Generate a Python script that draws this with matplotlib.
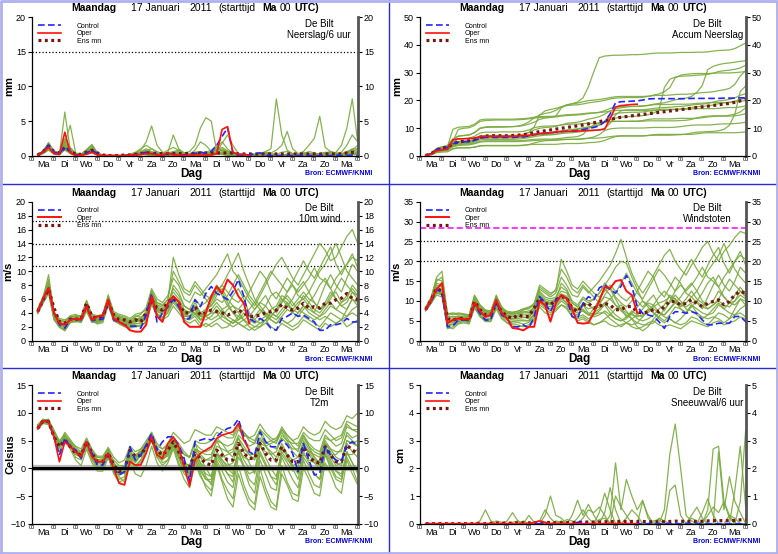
import numpy as np
import matplotlib
matplotlib.use('Agg')
import matplotlib.pyplot as plt
from matplotlib.lines import Line2D
from matplotlib.transforms import offset_copy

plt.rcParams['font.family'] = ['Liberation Sans', 'DejaVu Sans']

# time axis: 6-hourly steps, in days after Ma 17 Jan 00 UTC
steps = np.arange(1, 61)
t = steps * 0.25
t_oper = t[:40]
day_names = ['Ma', 'Di', 'Wo', 'Do', 'Vr', 'Za', 'Zo', 'Ma', 'Di', 'Wo', 'Do', 'Vr', 'Za', 'Zo', 'Ma']

# ---------------- precipitation per 6 h (mm) ----------------
prec_ctrl = [0.1,0.6,1.5,0.5, 0.3,1.3,0.6,0.1, 0.1,0.4,0.8,0.3, 0,0,0,0, 0,0.1,0.1,0.3, 0.5,0.3,0.2,0.1,
             0.3,0.2,0.1,0.1, 0.2,0.3,0.5,0.3, 0.6,1.5,2.8,4.0, 0.4,0.1,0.1,0.1, 0.3,0.4,0.1,0, 0,0,0,0,
             0,0.1,0,0, 0,0,0,0.1, 0,0,0.1,0]
prec_oper = [0.1,0.5,1.2,0.3, 0.2,3.4,0.4,0, 0.1,0.2,0.5,0.1, 0,0,0,0, 0,0.1,0.1,0.2, 0.3,0.3,0.1,0.1,
             0.4,0.1,0.1,0, 0.1,0.1,0.1,0.1, 0.1,0.3,3.8,4.2, 0.5,0.2,0.2,0.1]
prec_mean = [0.1,0.6,1.4,0.6, 0.4,1.2,0.7,0.2, 0.2,0.5,0.8,0.4, 0.1,0,0,0, 0.1,0.1,0.2,0.3, 0.4,0.4,0.3,0.3,
             0.3,0.3,0.3,0.3, 0.3,0.3,0.4,0.4, 0.4,0.4,0.4,0.4, 0.4,0.25,0.25,0.25, 0.25,0.25,0.25,0.25,
             0.25,0.25,0.25,0.25, 0.25,0.25,0.25,0.25, 0.25,0.25,0.25,0.25, 0.25,0.4,0.5,0.5]
prec_members = [
    [0,0.3,0.8,0.2, 0.1,1.0,0.4,0, 0,0.3,0.5,0.1, 0,0,0,0, 0,0,0.1,0.2, 0.1,0,0,0, 0,0.2,0.1,0, 0,0.1,0.2,0.1,
     0.2,0.5,0.8,0.6, 0.2,0,0,0, 0,0.2,0.3,0.1, 0,0,0,0, 0,0,0.2,0.3, 0.1,0,0,0, 0,0,0.1,0.2],
    [0.1,0.5,1.5,0.6, 0.3,2.0,1.0,0.2, 0.2,0.6,1.2,0.3, 0,0,0.1,0, 0,0,0.2,0.5, 0.8,0.4,0.2,0, 0.1,0.3,0.2,0.1,
     0,0.2,0.1,0, 0.1,0.3,0.2,0.1, 0,0,0.1,0, 0.2,0.4,0.2,0, 0,0,0.1,0.1, 0,0,0,0.2, 0.3,0.2,0.1,0, 0,0.1,0.3,0.5],
    [0.1,0.5,1.9,0.5, 0.2,6.3,0.8,0.1, 0.2,0.8,1.5,0.3, 0,0,0,0, 0,0.1,0.1,0.2, 0.3,0.2,0.1,0, 0.1,0.3,0.2,0.1,
     0.1,0.2,0.2,0.1, 0.1,0.2,0.3,0.2, 0.1,0,0,0, 0,0,0.1,0.2, 0.1,0,0,0, 0,0.1,0.1,0, 0,0,0.1,0.2, 0.1,0,0.2,0.4],
    [0.1,0.6,1.8,0.7, 0.4,2.5,1.0,0.2, 0.2,0.8,1.5,0.4, 0.1,0,0,0.1, 0.1,0.2,0.5,1.0, 1.5,1.0,0.6,0.3,
     0.8,1.2,0.8,0.4, 0.6,1.5,4.0,5.5, 5.0,0.6,0.2,0.1, 0,0.1,0.1,0, 0.1,0.2,0.2,0.1, 0,0,0.1,0.1, 0,0,0.1,0,
     0.1,0.3,0.2,0.1, 0.1,0.5,1.0,1.0],
    [0.1,0.4,1.2,0.5, 0.3,1.5,0.6,0.1, 0.1,0.5,0.9,0.2, 0,0,0,0, 0,0.1,0.2,0.4, 0.6,0.4,0.2,0.1, 0.2,0.4,0.3,0.1,
     0.1,0.3,0.5,0.4, 0.5,0.8,1.0,0.6, 0.3,0.2,0.1,0.1, 0.2,0.3,0.6,1.0, 8.2,3.0,0.8,0.3, 0.1,0.1,0.2,0.1,
     0.2,0.4,0.6,0.3, 0.2,0.3,0.5,1.0],
    [0.1,0.5,1.3,0.4, 0.2,1.8,0.8,0.2, 0.1,0.6,1.0,0.3, 0,0,0,0, 0,0.1,0.3,0.6, 1.0,0.6,0.3,0.1, 0.3,0.5,0.6,0.2,
     0.2,0.5,0.6,0.4, 0.5,0.9,1.2,0.7, 0.4,0.3,0.2,0.1, 0.1,0.2,0.4,0.3, 0.2,0.5,0.6,0.3, 0.3,0.6,1.5,2.5,
     5.7,1.2,0.6,0.4, 0.2,0.3,0.3,0.2],
    [0.1,0.6,1.6,0.6, 0.3,1.2,0.6,0.1, 0.1,0.4,0.8,0.2, 0,0,0,0, 0,0,0.1,0.2, 0.4,0.3,0.1,0, 0.1,0.6,0.8,0.3,
     0.2,0.4,0.3,0.2, 0.4,1.2,2.0,1.0, 0.3,0.1,0.1,0, 0.1,0.3,0.2,0.1, 0,0.1,0.2,0.1, 0.2,0.4,0.3,0.1,
     0.2,0.3,0.5,0.3, 0.2,0.4,0.6,0.5],
    [0.1,0.3,0.9,0.3, 0.2,0.8,0.3,0, 0,0.2,0.4,0.1, 0,0,0,0, 0,0,0.1,0.3, 0.6,0.5,0.3,0.1, 0.1,0.2,0.1,0,
     0,0.1,0.3,0.5, 0.8,1.5,0.6,0.2, 0.1,0,0,0, 0,0.1,0.1,0, 0,0,0.1,0.2, 0.3,0.2,0.1,0, 0,0.1,0.2,0.1, 0,0.1,0.2,0.3],
    [0.1,0.7,1.7,0.5, 0.3,1.8,4.4,0.4, 0.2,0.8,1.5,0.3, 0.1,0.1,0,0, 0,0.1,0.1,0.2, 0.3,0.2,0.1,0, 0.1,0.3,0.2,0.1,
     0.1,0.2,0.3,0.2, 0.3,0.6,0.8,0.4, 0.2,0.1,0,0, 0.1,0.2,0.3,0.1, 0,0,0.1,0, 0,0.1,0.2,0.1, 0.1,0.1,0,0, 0,0.2,0.3,0.2],
    [0.1,0.5,1.4,0.5, 0.3,1.6,0.7,0.1, 0.1,0.5,0.9,0.2, 0,0,0,0, 0.1,0.2,0.4,0.8, 2.0,4.3,1.5,0.5, 0.4,0.6,0.4,0.2,
     0.1,0.3,0.4,0.3, 0.2,0.4,0.5,0.3, 0.1,0.1,0,0, 0.1,0.3,0.5,0.4, 0.8,1.5,3.5,1.0, 0.3,0.2,0.1,0, 0,0.1,0.1,0, 0,0.1,0.2,0.2],
    [0.1,0.4,1.0,0.4, 0.2,1.4,0.5,0.1, 0.1,0.3,0.7,0.2, 0,0,0,0, 0,0,0.1,0.2, 0.2,0.1,0,0, 0.1,0.2,0.3,0.1,
     0.2,0.8,2.0,1.5, 0.6,0.3,0.2,0.1, 0,0,0,0, 0.1,0.1,0,0, 0,0,0,0.1, 0.1,0.3,0.6,0.4, 0.2,0.1,0,0, 0.2,0.4,0.8,1.5],
    [0.1,0.7,1.8,0.6, 0.4,2.2,1.2,0.3, 0.2,0.9,1.6,0.4, 0.1,0,0,0, 0,0.1,0.3,0.5, 0.7,1.0,0.5,0.2, 0.5,3.0,1.0,0.4,
     0.3,0.5,0.4,0.2, 0.2,0.3,0.4,0.3, 0.1,0,0,0, 0,0.1,0.2,0.1, 0,0.1,0.2,0.1, 0,0.1,0.3,0.2, 0.1,0.2,0.4,0.3, 0.5,1.5,3.0,2.0],
    [0.1,0.4,1.1,0.4, 0.2,1.0,0.5,0.1, 0.1,0.4,0.6,0.2, 0,0,0,0, 0,0,0.1,0.1, 0.2,0.1,0.1,0, 0,0.1,0.1,0,
     0.1,0.2,0.1,0, 0.1,0.2,0.3,0.2, 0.1,0,0,0, 0,0.1,0.1,0, 0,0,0.1,0.1, 0.2,0.4,0.3,0.1, 0.1,0.1,0.2,0.5, 1.5,4.0,8.2,2.0],
    [0.1,0.5,1.2,0.5, 0.2,1.2,0.6,0.1, 0.1,0.4,0.8,0.2, 0,0,0,0, 0,0.1,0.2,0.3, 0.4,0.3,0.2,0.1, 0.2,0.3,0.2,0.1,
     0.2,0.3,0.2,0.1, 0.2,0.6,1.8,3.0, 1.5,0.3,0.1,0, 0,0.2,0.3,0.2, 0.1,0.1,0.2,0.1, 0.2,0.3,0.2,0.1,
     0.3,0.5,0.4,0.2, 0.3,0.6,0.9,0.6],
]

# ---------------- 10 m wind (m/s) ----------------
wind_ctrl = [4.2,5.9,7.6,4.0, 2.3,1.8,3.1,3.1, 3.0,5.0,2.9,3.0, 3.1,5.7,3.0,2.7, 2.3,2.1,2.1,1.8, 3.7,6.8,2.7,4.0,
             4.9,5.9,4.9,3.0, 3.2,5.9,4.9,6.8, 7.8,6.8,6.4,5.9, 7.1,8.8,6.4,3.2, 2.7,3.2,2.7,1.8, 1.5,3.2,3.5,4.0,
             3.5,3.7,3.2,2.7, 1.5,1.5,2.3,2.3, 2.5,3.2,2.7,2.7]
wind_oper = [4.2,6.1,7.6,4.0, 2.5,2.3,3.0,3.1, 3.1,4.9,3.0,3.5, 3.6,5.9,3.2,2.7, 2.3,1.5,1.3,1.3, 2.3,6.4,3.5,2.7,
             5.4,6.4,5.6,2.7, 2.0,2.0,2.0,4.0, 6.4,7.8,6.8,8.8, 8.0,6.4,5.4,2.5]
wind_mean = [4.2,5.9,7.4,4.7, 2.7,2.5,3.1,3.1, 3.1,5.4,3.5,3.2, 3.5,5.6,3.7,3.0, 3.0,2.7,3.0,2.7, 4.0,5.9,4.7,4.4,
             5.6,6.1,5.4,4.0, 4.0,4.9,3.7,4.0, 4.4,4.2,4.0,3.7, 4.0,4.4,4.0,3.5, 3.5,3.7,4.0,4.2, 4.4,5.2,4.7,4.4,
             4.7,5.4,4.7,4.9, 4.7,5.4,5.4,5.9, 6.1,6.8,6.1,5.9]
wind_members = [
    [4.0,5.5,7.0,3.8, 2.4,2.0,3.2,3.0, 3.2,5.0,3.4,3.0, 3.6,5.8,3.8,3.0, 3.0,2.5,3.0,2.8, 4.0,6.5,5.0,4.5,
     5.5,7.0,6.0,4.5, 4.0,5.5,4.0,3.5, 3.0,3.5,4.5,5.0, 6.5,7.5,6.0,4.0, 3.0,2.5,3.0,3.5, 4.5,6.0,5.5,4.0,
     5.0,6.5,5.5,4.5, 4.0,5.0,6.5,7.0, 5.5,6.0,8.0,7.0],
    [4.6,6.4,8.8,4.2, 3.0,2.8,3.6,3.8, 3.4,5.8,3.6,3.4, 3.8,6.2,4.0,3.6, 3.4,3.0,3.4,3.8, 4.8,7.5,6.0,5.5,
     6.5,9.0,8.0,6.0, 5.5,7.0,6.5,7.5, 8.5,9.5,11.0,12.5, 10.0,9.0,7.5,6.0, 5.0,6.5,8.0,9.5, 11.0,12.0,10.5,9.0,
     8.0,9.5,11.0,12.5, 14.0,13.0,11.5,12.0, 13.5,15.0,16.0,14.0],
    [4.1,5.6,7.2,3.2, 2.0,1.6,2.6,2.9, 2.6,4.2,2.6,2.8, 2.9,5.0,3.0,2.4, 2.0,1.8,2.0,2.2, 2.6,5.2,3.6,3.0,
     3.5,5.0,4.0,3.0, 2.5,3.0,2.0,2.5, 2.0,2.5,1.8,2.0, 3.0,2.5,2.0,1.5, 2.0,2.5,3.0,2.0, 1.5,2.5,2.0,1.5,
     2.0,3.0,2.5,2.0, 1.5,2.5,2.0,2.5, 3.0,2.0,2.5,3.0],
    [4.4,6.0,8.0,3.6, 2.6,2.4,3.0,3.4, 3.0,5.4,3.2,3.2, 3.4,6.0,3.4,3.2, 2.8,2.4,2.8,3.0, 3.6,6.4,4.8,4.2,
     5.0,6.5,5.5,4.0, 3.5,4.5,3.0,4.0, 5.5,7.0,8.0,9.5, 11.0,12.6,10.0,8.0, 6.0,5.0,4.0,3.5, 3.0,4.0,5.0,6.0,
     7.5,8.5,7.0,5.5, 4.5,5.5,7.0,6.0, 5.0,4.5,6.0,5.5],
    [4.2,5.8,7.5,3.4, 2.2,1.8,2.8,3.2, 3.0,4.8,2.8,2.6, 3.0,5.4,3.2,2.8, 2.4,2.0,2.4,2.6, 3.0,5.8,4.2,3.8,
     4.5,6.0,5.0,3.5, 3.5,4.0,3.0,3.0, 3.5,4.5,3.5,3.0, 2.5,3.5,4.5,3.5, 3.0,4.0,5.0,6.5, 7.0,6.0,5.0,4.5,
     5.5,6.0,5.0,4.0, 6.0,8.0,9.5,8.0, 7.0,9.0,11.0,10.0],
    [4.3,5.9,7.8,3.7, 2.8,2.6,3.4,3.0, 2.8,5.2,3.0,2.8, 3.2,6.4,3.6,3.4, 3.2,2.8,3.6,3.4, 3.8,6.8,5.2,4.8,
     5.0,8.0,7.0,5.0, 4.5,6.0,5.0,5.5, 6.5,8.0,7.0,5.5, 4.0,3.0,3.5,4.5, 5.5,4.5,3.5,3.0, 2.5,3.5,4.5,4.0,
     3.5,4.5,5.5,6.5, 8.0,9.0,7.5,6.0, 5.0,5.5,7.0,6.0],
    [3.9,5.4,6.8,3.0, 2.0,1.4,2.6,2.8, 2.8,4.6,3.0,2.4, 2.6,5.2,2.8,2.6, 2.2,2.0,2.2,2.0, 2.8,5.5,3.8,3.2,
     4.0,5.5,4.5,3.2, 3.0,3.5,2.5,2.0, 2.5,3.0,3.5,4.5, 5.0,4.0,3.0,2.5, 2.0,2.0,2.5,3.5, 4.5,5.5,6.5,5.5,
     4.5,4.0,3.5,3.0, 3.5,4.5,5.5,4.5, 4.0,3.5,4.5,5.0],
    [4.5,6.2,9.5,4.0, 3.2,3.0,3.4,3.6, 3.6,5.6,3.8,3.6, 3.8,6.6,4.2,3.8, 3.6,3.2,3.8,4.0, 4.4,7.0,5.5,5.0,
     6.0,10.0,8.5,7.0, 6.5,8.0,7.0,6.0, 5.0,6.0,5.5,6.5, 8.0,9.5,8.0,6.5, 5.5,7.0,8.5,10.0, 9.0,8.0,7.0,8.5,
     10.0,11.5,10.0,9.0, 10.5,12.0,13.5,11.0, 9.5,11.0,12.5,10.5],
    [4.0,5.7,7.2,3.3, 2.3,1.9,2.9,3.1, 2.9,4.9,2.9,2.9, 3.1,5.6,3.1,2.9, 2.6,2.2,2.5,2.4, 3.2,6.0,4.2,4.0,
     4.8,6.2,5.0,3.5, 3.5,4.5,3.5,4.0, 4.5,5.5,4.5,3.5, 3.0,2.5,2.0,2.5, 3.5,4.5,4.0,3.0, 2.5,3.0,2.5,2.0,
     2.5,3.5,3.0,2.5, 2.0,3.0,4.0,3.5, 3.0,4.5,6.0,5.0],
    [4.4,6.1,8.2,3.9, 2.7,2.3,3.3,3.5, 3.3,5.5,3.3,3.1, 3.5,6.2,3.5,3.1, 2.9,2.6,3.2,3.2, 3.4,6.6,4.6,4.4,
     5.2,7.5,6.5,5.0, 4.5,5.0,4.0,4.5, 5.0,6.5,7.5,6.0, 5.0,4.5,5.5,7.0, 8.5,10.0,9.0,7.0, 6.0,7.5,9.0,8.0,
     6.5,6.0,7.0,8.5, 10.0,11.0,12.5,14.0, 12.0,10.0,9.0,8.0],
    [4.2,5.7,7.3,3.4, 2.4,2.1,3.1,3.3, 3.1,5.1,3.1,3.0, 3.3,5.7,3.3,3.1, 2.7,2.3,2.7,2.9, 3.3,6.1,4.5,4.1,
     4.7,6.3,5.5,4.0, 4.0,5.0,3.5,3.5, 4.0,5.0,4.0,3.0, 2.5,3.0,4.0,3.0, 2.5,3.0,3.5,4.5, 5.0,6.5,6.0,5.0,
     6.0,7.0,6.0,5.5, 4.5,5.0,6.0,7.5, 9.0,8.0,7.0,6.5],
    [4.3,5.9,7.6,3.5, 2.5,2.2,3.0,3.2, 3.0,5.3,3.0,3.1, 3.2,5.9,3.3,3.3, 2.8,2.5,2.9,3.1, 3.2,6.2,4.4,4.2,
     4.6,6.4,5.6,4.2, 4.2,4.0,3.5,4.5, 6.0,7.5,6.5,5.0, 4.0,3.5,3.0,3.5, 4.5,5.5,5.0,4.0, 3.5,4.5,5.5,4.5,
     4.0,5.0,4.5,4.0, 3.5,4.0,5.0,4.5, 5.5,6.5,7.5,6.5],
    [4.1,5.6,7.1,3.1, 1.9,1.5,2.7,2.7, 2.7,4.5,2.7,2.5, 2.8,5.3,2.9,2.5, 2.1,1.9,2.1,2.1, 2.7,5.4,3.9,3.4,
     4.2,5.8,4.8,3.8, 3.2,3.8,3.0,3.5, 4.0,4.0,3.0,2.5, 2.0,2.5,3.0,2.0, 1.5,2.0,3.0,4.0, 3.5,3.0,2.5,3.0,
     4.0,5.0,4.0,3.5, 3.0,3.5,3.0,2.5, 3.0,3.5,4.0,3.5],
    [4.5,6.1,8.5,3.9, 2.9,2.7,3.5,3.5, 3.4,5.7,3.5,3.3, 3.5,6.3,3.7,3.5, 3.1,2.7,3.1,3.3, 4.2,7.2,5.5,5.2,
     5.8,12.0,9.5,7.5, 7.0,8.5,7.5,6.5, 6.0,7.0,8.0,7.0, 6.0,5.5,6.5,5.5, 4.5,5.5,6.5,5.0, 4.0,5.5,7.0,8.0,
     7.0,8.0,9.0,10.5, 9.0,8.5,7.5,9.0, 10.0,11.0,12.0,11.5],
]

# ---------------- wind gusts (m/s) ----------------
gust_ctrl = [7.9,9.9,12.8,12.4, 3.5,3.7,5.2,5.2, 5.2,9.1,6.9,5.2, 5.2,9.9,6.5,5.6, 3.5,3.5,4.0,3.1, 6.1,11.1,9.4,7.3,
             10.3,11.1,10.7,6.1, 5.6,9.4,11.1,10.3, 13.3,14.1,12.8,12.0, 13.7,16.4,13.7,8.6, 6.9,6.5,6.1,4.8,
             3.1,6.1,7.3,7.3, 6.9,7.3,6.9,5.2, 4.0,4.0,4.4,4.4, 4.4,6.1,6.1,4.8]
gust_oper = [7.9,10.3,13.0,14.5, 4.4,5.2,5.6,5.4, 5.4,9.5,7.5,6.0, 6.5,10.3,7.0,5.6, 3.2,3.0,2.6,3.5, 3.5,10.0,9.0,4.8,
             9.5,11.5,10.5,8.0, 4.5,4.3,4.5,7.0, 10.0,13.5,13.2,15.0, 15.3,12.5,11.5,7.0]
gust_mean = [7.9,10.3,13.2,12.4, 5.6,5.2,5.6,5.6, 5.2,9.9,7.8,6.5, 6.5,9.4,7.3,6.1, 5.6,6.5,6.1,6.1, 8.2,10.7,9.4,9.0,
             10.3,11.1,10.7,8.2, 7.3,9.0,9.4,8.2, 8.6,9.4,9.0,7.8, 7.8,8.6,8.6,7.3, 6.9,7.3,7.8,7.3, 8.6,9.9,9.9,9.0,
             9.4,10.3,9.4,8.6, 9.4,9.9,10.3,9.0, 9.9,11.6,12.4,12.0]
gust_members = [
    [7.8,9.8,12.5,12.0, 5.0,5.0,5.5,5.8, 5.0,10.0,7.5,6.5, 6.5,9.5,7.5,6.0, 5.5,6.0,6.0,5.5, 8.0,11.0,9.5,9.0,
     10.0,11.5,11.0,8.5, 7.5,9.5,9.0,8.0, 8.5,9.5,10.5,9.0, 8.0,7.0,6.5,6.0, 6.5,7.0,8.5,9.5, 10.0,11.0,10.5,9.0,
     8.5,9.5,10.0,8.5, 8.0,9.0,10.0,9.0, 8.5,10.0,11.5,10.5],
    [8.4,11.0,15.5,15.0, 7.0,6.5,7.0,6.8, 6.5,11.5,9.0,7.5, 7.5,11.0,8.5,7.0, 7.0,7.5,8.0,8.5, 9.0,13.0,12.0,11.0,
     12.0,16.0,14.0,11.5, 11.0,13.5,12.0,13.5, 15.0,17.0,19.0,22.0, 25.5,21.0,17.0,14.0, 12.0,14.0,16.5,19.0,
     21.5,23.0,20.0,18.0, 16.5,19.0,21.0,23.5, 25.0,22.0,20.0,22.5, 24.0,26.0,27.5,27.0],
    [7.6,9.5,12.0,11.5, 3.0,3.5,4.5,4.8, 4.5,8.5,6.0,5.0, 5.0,8.5,6.0,4.5, 4.0,4.0,3.5,4.0, 5.5,9.0,8.0,7.0,
     8.0,9.0,8.0,6.0, 5.0,5.5,4.5,4.0, 4.5,5.0,4.0,3.5, 4.0,4.5,3.5,3.0, 3.5,4.5,5.0,4.0, 3.5,4.0,3.5,3.0,
     4.0,5.0,4.5,4.0, 3.5,4.5,5.0,4.0, 4.5,5.0,6.0,5.5],
    [8.0,10.5,14.0,13.5, 5.5,5.5,5.8,6.0, 5.6,10.5,8.0,7.0, 7.0,10.0,7.8,6.5, 6.0,6.5,7.0,7.0, 8.5,11.5,10.0,9.5,
     10.5,12.5,12.0,9.5, 8.5,10.5,9.5,10.5, 12.0,14.0,16.0,18.5, 20.0,19.5,16.0,13.0, 10.0,9.0,8.0,7.0,
     6.5,8.0,9.5,11.0, 13.0,14.5,12.5,10.0, 9.0,10.0,12.5,11.0, 9.5,9.0,10.5,10.0],
    [7.7,9.6,12.2,11.8, 4.0,4.2,5.0,5.2, 4.8,9.0,6.5,5.5, 5.5,8.8,6.5,5.2, 4.8,5.0,5.0,5.0, 6.5,10.0,8.5,8.0,
     9.0,10.5,9.5,7.5, 7.0,7.5,6.5,6.0, 6.5,7.5,6.5,5.5, 5.0,6.0,7.5,6.5, 6.0,7.5,9.0,11.0, 12.5,11.0,9.5,8.5,
     9.5,11.0,9.5,8.0, 11.0,14.0,16.5,14.0, 12.5,15.0,18.5,17.0],
    [8.1,10.2,13.5,13.0, 6.0,6.0,6.2,5.8, 5.5,10.8,8.0,7.0, 6.8,10.2,7.8,6.8, 6.5,7.0,7.5,7.0, 8.5,12.0,10.5,10.0,
     10.5,14.5,13.0,10.0, 9.0,11.0,10.0,10.5, 12.0,14.5,13.0,10.5, 8.0,6.0,7.0,8.5, 10.0,8.5,7.0,6.0,
     5.0,6.5,8.5,8.0, 7.0,8.5,10.0,12.0, 14.5,16.0,13.5,11.0, 9.5,10.0,12.5,11.0],
    [7.5,9.4,11.5,11.0, 3.5,3.0,4.2,4.5, 4.2,8.2,6.2,4.8, 4.8,8.0,5.5,4.5, 3.5,3.5,3.8,3.5, 5.0,8.5,7.0,6.5,
     7.5,9.0,8.5,6.0, 5.5,6.0,5.0,4.0, 4.5,5.5,6.5,8.0, 9.0,7.5,5.5,4.5, 4.0,4.0,4.5,6.0, 8.0,9.5,11.5,10.0,
     8.0,7.5,6.5,5.5, 6.5,8.0,9.5,8.0, 7.0,6.5,8.0,9.0],
    [8.3,10.8,16.0,17.5, 6.5,6.8,6.5,6.5, 6.2,11.0,8.8,7.5, 7.2,11.5,8.5,7.2, 7.0,7.0,7.8,8.0, 9.0,13.5,12.5,11.5,
     13.0,18.0,16.0,13.0, 12.0,14.0,12.5,11.0, 9.5,11.0,10.5,12.0, 14.5,17.0,14.5,12.0, 10.5,13.0,15.5,18.0,
     16.5,14.5,12.5,15.5, 18.0,20.5,18.0,16.0, 19.0,21.5,23.5,19.5, 17.0,20.0,22.5,19.0],
    [7.9,9.9,12.6,12.2, 4.5,4.5,5.2,5.5, 5.2,9.5,6.8,6.0, 6.0,9.0,6.8,5.8, 5.2,5.2,5.2,5.0, 7.0,10.5,9.0,8.5,
     9.5,11.0,9.5,7.0, 6.5,8.0,6.5,7.0, 8.0,9.5,8.0,6.5, 5.5,4.5,4.0,4.5, 6.0,8.0,7.0,5.5, 4.5,5.5,4.5,4.0,
     4.5,6.0,5.5,4.5, 4.0,5.5,7.0,6.5, 5.5,8.0,10.5,9.0],
    [8.2,10.6,14.5,14.0, 6.2,6.0,6.0,6.2, 6.0,10.6,8.4,7.2, 7.0,10.8,8.0,7.0, 6.8,6.8,7.2,7.5, 8.0,12.5,11.0,10.5,
     11.0,13.5,12.5,9.5, 8.5,9.0,8.0,8.5, 9.0,11.5,13.5,11.0, 9.5,8.5,10.0,12.5, 15.0,17.5,16.0,12.5,
     11.0,13.5,16.0,14.5, 12.0,11.0,12.5,15.0, 17.5,19.5,21.5,24.5, 21.0,18.0,16.0,14.5],
    [7.8,9.7,12.4,12.2, 4.8,4.8,5.4,5.6, 5.3,9.8,7.2,6.2, 6.2,9.6,7.2,6.2, 5.6,5.6,5.8,6.0, 7.5,11.0,9.8,9.2,
     9.8,11.2,10.5,8.0, 7.5,9.0,7.0,6.5, 7.5,9.0,7.0,5.5, 5.0,5.5,7.0,5.5, 5.0,5.5,6.5,8.0, 9.0,11.5,10.5,9.0,
     10.5,12.5,10.5,9.5, 8.0,9.0,10.5,13.0, 15.5,14.0,12.5,11.5],
    [8.0,10.0,13.0,12.6, 5.2,5.2,5.6,5.4, 5.4,10.2,7.6,6.6, 6.6,10.0,7.4,6.4, 6.2,6.2,6.5,6.5, 7.8,11.2,10.0,9.6,
     10.0,11.8,11.2,8.5, 8.0,7.5,6.5,8.0, 10.5,13.0,11.5,9.0, 7.5,6.5,5.5,6.5, 8.0,9.5,9.0,7.0, 6.5,8.0,10.0,8.0,
     7.0,9.0,8.0,7.0, 6.5,7.0,9.0,8.0, 9.5,11.5,13.5,11.5],
    [7.6,9.5,12.0,11.6, 3.8,4.0,4.8,5.0, 4.6,8.8,6.4,5.4, 5.4,9.2,6.4,5.2, 4.4,4.6,4.2,4.6, 6.0,9.5,8.5,7.5,
     8.5,10.0,9.0,7.0, 6.0,6.5,5.5,6.5, 7.0,7.0,5.5,4.5, 3.5,4.5,5.5,3.5, 2.5,3.5,5.5,7.0, 6.0,5.5,4.5,5.5,
     7.0,9.0,7.0,6.0, 5.5,6.0,5.5,4.5, 5.5,6.5,7.0,6.0],
    [8.3,10.7,15.0,16.0, 6.8,7.0,6.8,6.6, 6.4,11.2,9.0,7.8, 7.4,11.2,8.2,7.4, 7.2,7.4,8.0,8.2, 9.5,14.0,13.0,12.0,
     12.5,20.5,17.5,14.0, 13.0,15.0,13.5,12.0, 11.0,12.5,14.0,12.5, 11.0,10.0,11.5,10.0, 8.5,10.0,11.5,9.0,
     7.5,10.0,12.5,14.0, 12.5,14.0,16.0,18.5, 16.0,15.0,13.5,16.0, 18.0,20.0,21.5,20.5],
]

# ---------------- 2 m temperature (Celsius) ----------------
temp_ctrl = [7.2,8.6,8.4,5.7, 2.4,5.4,3.9,3.3, 1.8,4.8,2.7,0.6, 0.6,2.7,0.0,-1.2, -0.6,3.9,1.5,2.4, 4.2,6.3,3.3,4.8,
             5.7,5.7,4.2,1.8, -2.4,4.8,5.1,5.4, 5.1,5.7,6.6,7.2, 7.5,8.9,5.7,3.0, 2.4,6.6,4.8,3.9, 3.9,5.1,4.2,2.7,
             -0.6,4.5,1.5,-1.2, -0.9,3.9,2.4,1.5, 1.2,4.2,4.8,4.2]
temp_oper = [7.2,8.6,8.4,5.7, 1.2,4.8,3.9,3.0, 2.1,4.8,2.1,1.2, 1.2,2.7,0.0,-2.7, -3.0,1.2,0.6,0.6, 2.7,5.7,2.4,1.8,
             4.5,5.7,3.9,0.3, -3.2,1.5,2.7,3.3, 3.9,5.4,6.0,6.3, 6.6,8.1,5.1,3.3]
temp_mean = [7.2,8.6,8.4,5.7, 3.9,5.1,3.9,2.7, 2.4,4.8,2.7,1.2, 1.2,2.7,0.6,-0.6, -0.3,3.3,2.1,2.4, 3.9,5.4,3.3,2.4,
             3.3,4.8,3.0,0.9, 0.3,2.7,1.8,0.9, 0.6,3.3,2.4,1.5, 1.5,4.5,2.7,1.8, 1.8,4.5,2.7,1.5, 1.5,3.9,2.4,1.2,
             1.2,3.9,2.1,1.2, 0.9,3.9,2.4,1.2, 1.2,4.2,3.3,2.7]
temp_members = [
    [7.2,8.8,8.6,6.8, 5.0,6.0,5.0,4.0, 3.5,5.5,3.5,2.0, 2.0,3.5,1.0,0.0, 0.5,3.0,2.0,3.5, 4.5,6.0,4.0,3.5,
     4.0,5.5,4.0,2.5, 2.0,5.0,4.5,4.5, 5.0,6.5,6.0,5.5, 5.5,7.5,6.5,5.5, 5.0,7.0,5.0,4.0, 3.5,6.0,5.0,4.5,
     4.5,6.5,5.5,5.0, 5.0,7.0,6.0,5.0, 5.5,8.0,7.0,6.5],
    [7.0,8.2,8.0,5.5, 3.0,5.0,3.5,1.5, 0.5,3.5,1.0,-0.5, -0.5,2.0,-0.5,-2.5, -3.0,1.0,-1.0,-1.5, 0.5,4.0,1.0,-0.5,
     1.0,3.5,0.5,-2.0, -3.5,1.0,-1.5,-3.0, -4.0,1.0,-2.0,-4.0, -5.5,0.5,-3.0,-5.5, -6.5,0.0,-3.5,-6.0,
     -7.0,0.5,-2.5,-4.5, -5.0,1.5,-1.0,-3.0, -3.5,2.5,0.0,-2.0, -2.5,3.0,1.0,-1.0],
    [7.6,8.6,8.9,6.0, 4.5,6.0,4.0,2.5, 2.0,4.5,2.0,1.0, 1.5,3.0,1.5,0.5, 0.5,3.5,2.5,3.0, 4.5,6.5,3.0,1.0,
     1.5,4.0,3.0,1.0, -1.0,2.5,0.0,-2.0, -2.5,2.0,0.5,-1.0, -1.5,3.5,1.5,0.0, -0.5,4.5,4.0,4.5, 5.0,6.5,5.0,3.0,
     2.0,4.5,2.5,1.0, 0.0,3.0,1.0,-0.5, -1.5,2.5,2.5,3.5],
    [7.4,8.4,8.2,6.6, 4.2,5.5,4.6,3.5, 2.8,5.0,2.0,0.5, 0.0,2.2,0.0,-1.5, -2.5,1.5,0.5,1.5, 3.0,5.0,2.0,1.5,
     2.5,5.0,3.5,2.5, 2.0,4.5,3.5,3.0, 3.5,5.5,4.5,3.0, 2.0,5.5,3.0,1.0, -1.0,3.0,1.0,-1.5, -3.0,2.0,0.0,-2.0,
     -3.5,2.0,0.5,-1.0, -2.0,3.5,2.5,2.5, 3.5,6.0,5.0,4.0],
    [7.8,8.9,8.4,6.2, 3.5,5.8,4.8,3.2, 2.2,4.2,3.0,2.0, 1.8,3.5,1.0,-0.5, -1.0,2.0,1.0,2.5, 4.0,5.5,3.5,3.0,
     3.5,5.5,4.5,3.0, 2.0,4.5,2.0,0.0, -1.5,2.5,1.0,-1.0, -2.5,3.0,0.0,-3.0, -4.5,1.5,-1.0,-3.5, -4.0,2.5,1.0,-0.5,
     0.5,4.0,3.0,2.5, 2.0,5.0,3.5,2.0, 1.5,5.0,4.5,4.0],
    [7.3,8.3,8.7,6.4, 4.8,6.2,4.2,2.8, 1.8,4.6,2.8,1.5, 1.0,2.6,0.2,-1.2, -0.8,2.8,1.8,3.0, 4.2,5.2,2.5,2.5,
     3.8,5.2,3.0,1.0, 0.5,3.5,2.5,1.5, 1.5,4.0,3.5,3.0, 3.5,6.0,5.0,4.0, 4.5,6.5,4.0,2.5, 1.0,4.0,2.0,0.0,
     -2.0,2.5,1.5,1.0, 1.5,4.5,3.0,1.0, 0.5,4.5,3.0,2.0],
    [7.5,8.6,8.3,5.8, 4.0,5.2,4.0,2.0, 1.5,4.0,1.5,0.0, 0.5,2.5,-0.5,-2.0, -1.5,2.0,0.0,1.0, 3.0,5.5,2.0,0.5,
     1.5,4.0,1.0,-1.0, -2.0,2.0,-1.0,-3.5, -5.0,0.5,-2.5,-5.5, -7.0,-1.0,-4.0,-6.5, -7.5,-1.5,-4.5,-7.0,
     -7.5,-1.0,-3.0,-5.5, -6.0,0.0,-2.0,-4.5, -5.0,1.0,-1.0,-3.5, -4.5,1.5,-1.0,-3.0],
    [7.7,8.5,8.8,6.9, 4.6,6.5,5.2,3.8, 3.0,5.2,3.2,2.2, 2.2,3.8,2.0,1.0, 1.5,4.0,3.0,3.5, 5.0,6.5,4.5,3.5,
     4.5,6.5,5.5,4.5, 5.0,7.0,6.5,6.0, 6.0,7.5,7.0,6.5, 6.0,8.0,6.5,5.0, 4.5,7.0,6.0,5.0, 4.5,7.0,5.5,4.0,
     3.0,6.0,4.5,3.5, 3.0,6.0,5.0,4.0, 4.5,7.5,7.0,7.0],
    [7.1,8.1,7.9,6.1, 3.8,5.4,4.4,2.6, 2.5,4.4,1.8,0.2, 0.3,2.0,-1.0,-2.5, -2.0,1.5,0.0,1.5, 3.5,5.0,2.5,1.8,
     2.2,4.8,2.0,-0.5, -1.5,2.5,1.0,0.0, 0.0,3.0,1.5,0.0, -1.0,3.5,2.0,1.5, 2.0,5.0,4.5,5.0, 5.5,7.0,6.0,5.0,
     4.0,6.0,4.0,2.0, 0.5,3.5,1.5,-0.5, -1.0,3.0,1.0,-0.5],
    [7.6,8.7,8.5,6.5, 4.3,5.9,4.7,3.3, 2.6,5.0,2.9,1.6, 1.6,3.2,0.9,-0.2, 0.0,3.0,2.0,3.0, 4.0,5.8,3.2,2.5,
     3.2,5.0,2.8,0.8, 0.5,3.5,1.0,-1.5, -3.0,1.5,-0.5,-2.5, -3.5,2.0,0.5,-1.0, -0.5,4.0,3.0,2.5, 3.0,5.5,4.5,3.5,
     3.5,5.5,4.0,3.0, 2.5,5.5,5.0,5.5, 6.0,8.5,8.0,7.5],
    [7.5,8.5,8.6,6.3, 4.1,5.6,4.3,2.9, 2.1,4.7,2.3,0.8, 0.8,2.9,0.6,-0.6, 0.2,2.6,1.4,2.2, 3.6,5.6,2.9,2.2,
     3.0,4.6,2.4,0.2, -0.5,3.0,2.0,1.5, 2.0,5.0,4.5,4.0, 4.5,7.0,6.0,5.5, 6.0,8.0,6.5,5.5, 5.0,7.5,6.0,5.0,
     5.5,7.5,6.5,6.0, 6.5,8.5,7.5,7.0, 7.5,9.5,9.0,10.0],
    [7.4,8.3,8.4,6.0, 3.9,5.6,4.6,3.1, 2.4,4.9,2.6,1.0, 1.1,2.7,0.4,-1.0, -0.6,2.4,1.2,2.4, 3.8,5.4,2.6,1.6,
     2.6,4.2,1.8,-0.5, -1.0,2.0,0.5,-1.0, -1.5,2.5,1.5,0.5, 1.0,4.5,3.5,2.5, 2.5,5.5,4.0,3.0, 2.0,4.5,2.5,0.5,
     -1.0,3.0,1.0,-1.0, -2.0,2.5,0.5,-1.5, -2.0,2.0,0.0,-2.5],
    [7.9,8.8,8.7,6.7, 4.4,5.8,4.5,3.4, 2.3,4.8,2.7,1.4, 1.3,3.0,0.7,-0.9, -0.3,2.7,1.7,2.7, 4.1,5.7,3.0,2.4,
     3.3,4.7,2.3,-0.2, -1.5,1.5,-0.5,-2.0, -2.0,2.5,2.0,2.5, 3.0,5.5,4.0,2.5, 1.5,4.5,2.0,0.0, -1.5,3.0,1.5,0.5,
     1.0,4.5,3.0,1.5, 0.5,4.0,2.0,0.5, 1.0,5.0,4.5,5.0],
    [7.3,8.4,8.3,6.2, 4.0,5.5,4.4,2.9, 2.2,4.6,2.4,1.1, 1.0,2.8,0.3,-1.1, -0.7,2.3,1.3,2.3, 3.7,5.5,2.7,1.9,
     2.7,4.4,2.1,0.0, 0.0,3.5,3.0,2.5, 2.5,5.0,3.0,1.0, -0.5,3.0,0.5,-2.0, -3.0,2.5,0.5,-1.5, -2.0,3.5,2.5,1.5,
     2.0,5.0,3.5,2.0, 1.0,4.5,3.5,3.0, 3.0,6.5,5.5,6.0],
]

# ---------------- snowfall per 6 h (cm): (step, value) of non-zero steps ----------------
snow_ctrl_events = [(29, 0.05), (30, 0.08)]
snow_oper_events = [(21, 0.05), (22, 0.1), (23, 0.05)]
snow_mean = [0,0,0,0, 0,0,0,0, 0,0,0,0, 0.01,0.02,0.02,0.02, 0.02,0.03,0.03,0.03, 0.03,0.04,0.05,0.04,
             0.03,0.03,0.04,0.04, 0.05,0.06,0.06,0.06, 0.06,0.07,0.07,0.08, 0.08,0.08,0.08,0.08, 0.08,0.07,0.07,0.07,
             0.07,0.08,0.09,0.09, 0.08,0.08,0.08,0.09, 0.10,0.11,0.11,0.11, 0.11,0.12,0.14,0.15]
snow_member_events = [
    [(11, 0.1), (12, 0.5), (13, 0.1), (45, 0.5), (46, 2.5), (47, 3.6), (48, 2.0), (49, 0.3), (50, 0.1)],
    [(16, 0.1), (17, 0.4), (18, 0.1), (35, 0.3), (36, 2.2), (37, 0.5), (38, 1.6), (39, 1.0), (40, 0.5), (41, 0.85), (42, 0.2)],
    [(23, 0.3), (24, 1.0), (25, 0.3), (26, 0.2), (33, 0.4), (34, 1.1), (35, 0.5), (53, 0.5), (54, 2.7), (55, 2.8), (56, 0.8), (57, 0.2)],
    [(28, 0.3), (29, 0.85), (30, 0.3), (31, 0.7), (32, 0.3), (46, 1.2), (47, 1.4), (48, 0.3), (55, 2.6), (56, 0.5), (57, 1.7), (58, 0.8), (59, 0.4)],
    [(20, 0.3), (21, 0.05), (22, 0.1), (23, 0.5), (24, 0.2), (34, 0.4), (35, 1.3), (36, 0.5), (41, 0.8), (42, 0.3), (58, 1.2), (59, 2.8), (60, 0.6)],
    [(30, 0.2), (31, 0.5), (32, 0.4), (33, 0.6), (34, 0.3), (36, 1.0), (37, 0.6), (38, 0.3), (52, 0.4), (53, 0.9), (54, 0.3), (59, 0.8), (60, 3.4)],
    [(14, 0.1), (15, 0.05), (19, 0.1), (27, 0.15), (28, 0.1), (38, 0.2), (39, 0.5), (40, 0.3), (50, 0.3), (51, 0.6), (52, 0.2)],
    [(26, 0.1), (29, 0.2), (30, 0.5), (31, 0.2), (44, 0.2), (45, 0.1), (53, 0.3), (54, 0.6), (55, 0.4), (56, 0.8), (57, 0.3)],
    [(17, 0.05), (18, 0.1), (25, 0.1), (26, 0.05), (33, 0.15), (34, 0.2), (43, 0.1), (44, 0.15), (50, 0.2), (51, 0.1), (57, 0.3), (58, 0.2)],
]


def expand(events, n=60):
    a = np.zeros(n)
    for s, v in events:
        a[s - 1] = v
    return a


GREEN = '#79aa3d'
BLUE = '#2424ff'
RED = '#ff1010'
MAROON = '#781414'

fig = plt.figure(figsize=(7.78, 5.54), dpi=100)
W, H = 778.0, 554.0


def make_axes(left_px, top_px, bottom_px, right_px):
    return fig.add_axes([left_px / W, 1 - bottom_px / H, (right_px - left_px) / W, (bottom_px - top_px) / H])


renderer = fig.canvas.get_renderer()


def title_line(ax):
    parts = [('Maandag', 'bold', 0), ('17 Januari', 'normal', 14), ('2011', 'normal', 10),
             ('(starttijd', 'normal', 7), ('Ma', 'bold', 6), ('00', 'normal', 3), ('UTC)', 'bold', 3)]
    widths = []
    for s, w, g in parts:
        tt = fig.text(0, 0, s, fontsize=7.5, fontweight=w)
        widths.append(tt.get_window_extent(renderer).width)
        tt.remove()
    total = sum(widths) + sum(p[2] for p in parts)
    x = -total / 2
    for (s, w, g), wd in zip(parts, widths):
        x += g
        tr = offset_copy(ax.transAxes, fig=fig, x=x, y=0, units='dots')
        ax.text(0.5, 1.064, s, transform=tr, fontsize=7.5, fontweight=w, ha='left', va='center')
        x += wd


def decorate(ax, ylim, yticks, ylabel, ylabel_x, name):
    ax.set_xlim(0, 15)
    ax.set_ylim(*ylim)
    ax.set_yticks(yticks)
    ax.spines['top'].set_visible(False)
    ax.spines['left'].set_linewidth(0.9)
    ax.spines['bottom'].set_linewidth(0.9)
    ax.spines['right'].set_linewidth(2.0)
    ax.spines['right'].set_color('#555555')
    ax.tick_params(axis='y', which='both', direction='out', length=3, width=0.8, labelsize=6.5,
                   right=True, labelright=True, pad=1.5)
    ax.set_xticks(np.arange(0, 16), ['00'] * 16)
    ax.set_xticks(np.arange(0.5, 15), day_names, minor=True)
    ax.tick_params(axis='x', which='major', length=0, labelsize=4, pad=0.8)
    ax.tick_params(axis='x', which='minor', length=0, labelsize=6.5, pad=3.0)
    ax.text(ylabel_x, 0.5, ylabel, rotation=90, fontsize=8, fontweight='bold',
            ha='center', va='center', transform=ax.transAxes)
    ax.text(0.49, -0.132, 'Dag', fontsize=8.5, fontweight='bold', ha='center', va='center',
            transform=ax.transAxes)
    ax.text(1.044, -0.132, 'Bron: ECMWF/KNMI', fontsize=5, fontweight='bold', color='#0000dd',
            ha='right', va='center', transform=ax.transAxes)
    ax.text(0.882, 0.952, 'De Bilt', fontsize=7, ha='center', va='center', transform=ax.transAxes)
    ax.text(0.882, 0.872, name, fontsize=7, ha='center', va='center', transform=ax.transAxes)
    title_line(ax)


def plume(ax, members, ctrl, oper, mean, oper_lw=1.2):
    for m in members:
        ax.plot(t, m, color=GREEN, lw=0.9, alpha=0.9, zorder=2)
    lm, = ax.plot(t, mean, color=MAROON, lw=2.3, ls=(0, (0.9, 1.1)), zorder=3)
    lc, = ax.plot(t, ctrl, color=BLUE, lw=1.2, ls=(0, (4, 2)), zorder=4)
    lo, = ax.plot(t_oper, oper, color=RED, lw=oper_lw, zorder=5)
    ax.legend([lc, lo, lm], ['Control', 'Oper', 'Ens mn'], loc='upper left', bbox_to_anchor=(0.0, 1.0),
              frameon=False, fontsize=5, handlelength=3.4, handletextpad=2.2, labelspacing=0.05,
              borderaxespad=0.4)


# column / row pixel frames
cols = [(32.3, 357.7), (420.3, 745.7)]
rows = [(17.3, 155.7), (201.7, 340.7), (385.3, 523.7)]

# panel 1: precipitation per 6 h
ax = make_axes(cols[0][0], rows[0][0], rows[0][1], cols[0][1])
ax.axhline(15, color='black', ls=':', lw=0.9, zorder=1)
plume(ax, prec_members, prec_ctrl, prec_oper, prec_mean)
decorate(ax, (0, 20), [0, 5, 10, 15, 20], 'mm', -0.072, 'Neerslag/6 uur')

# panel 2: accumulated precipitation
ax = make_axes(cols[1][0], rows[0][0], rows[0][1], cols[1][1])
plume(ax, [np.cumsum(m) for m in prec_members], np.cumsum(prec_ctrl), np.cumsum(prec_oper), np.cumsum(prec_mean))
decorate(ax, (0, 50), [0, 10, 20, 30, 40, 50], 'mm', -0.072, 'Accum Neerslag')

# panel 3: 10 m wind
wind_levels = [10.8, 13.9, 17.2]
ax = make_axes(cols[0][0], rows[1][0], rows[1][1], cols[0][1])
for lev in wind_levels:
    ax.axhline(lev, color='black', ls=':', lw=0.9, zorder=1)
plume(ax, wind_members, wind_ctrl, wind_oper, wind_mean, oper_lw=1.4)
decorate(ax, (0, 20), list(range(0, 21, 2)), 'm/s', -0.073, '10m wind')

# panel 4: wind gusts
gust_levels = [20, 25]
gust_warn = 28.5
ax = make_axes(cols[1][0], rows[1][0], rows[1][1], cols[1][1])
for lev in gust_levels:
    ax.axhline(lev, color='black', ls=':', lw=0.9, zorder=1)
ax.axhline(gust_warn, color='#ff00ff', ls=(0, (4, 2)), lw=1.1, zorder=1)
plume(ax, gust_members, gust_ctrl, gust_oper, gust_mean, oper_lw=1.4)
decorate(ax, (0, 35), list(range(0, 36, 5)), 'm/s', -0.073, 'Windstoten')

# panel 5: T2m
ax = make_axes(cols[0][0], rows[2][0], rows[2][1], cols[0][1])
ax.axhline(0, color='#bbbbbb', lw=4.5, zorder=1)
ax.axhline(0, color='black', lw=2.2, zorder=6)
plume(ax, temp_members, temp_ctrl, temp_oper, temp_mean)
decorate(ax, (-10, 15), list(range(-10, 16, 5)), 'Celsius', -0.067, 'T2m')

# panel 6: snowfall per 6 h
ax = make_axes(cols[1][0], rows[2][0], rows[2][1], cols[1][1])
plume(ax, [expand(e) for e in snow_member_events], expand(snow_ctrl_events),
      expand(snow_oper_events, 40), snow_mean)
decorate(ax, (0, 5), [0, 1, 2, 3, 4, 5], 'cm', -0.062, 'Sneeuwval/6 uur')

# panel separators and outer border
sep = '#2a2ad6'
fig.add_artist(Line2D([0, 1], [1 - 184 / H, 1 - 184 / H], transform=fig.transFigure, color=sep, lw=1))
fig.add_artist(Line2D([0, 1], [1 - 368 / H, 1 - 368 / H], transform=fig.transFigure, color=sep, lw=1))
fig.add_artist(Line2D([389 / W, 389 / W], [0, 1], transform=fig.transFigure, color=sep, lw=1))
border = '#b0b0f0'
fig.add_artist(Line2D([0.001, 0.999, 0.999, 0.001, 0.001], [0.001, 0.001, 0.999, 0.999, 0.001],
                      transform=fig.transFigure, color=border, lw=2))

fig.savefig('out.png', dpi=100)
